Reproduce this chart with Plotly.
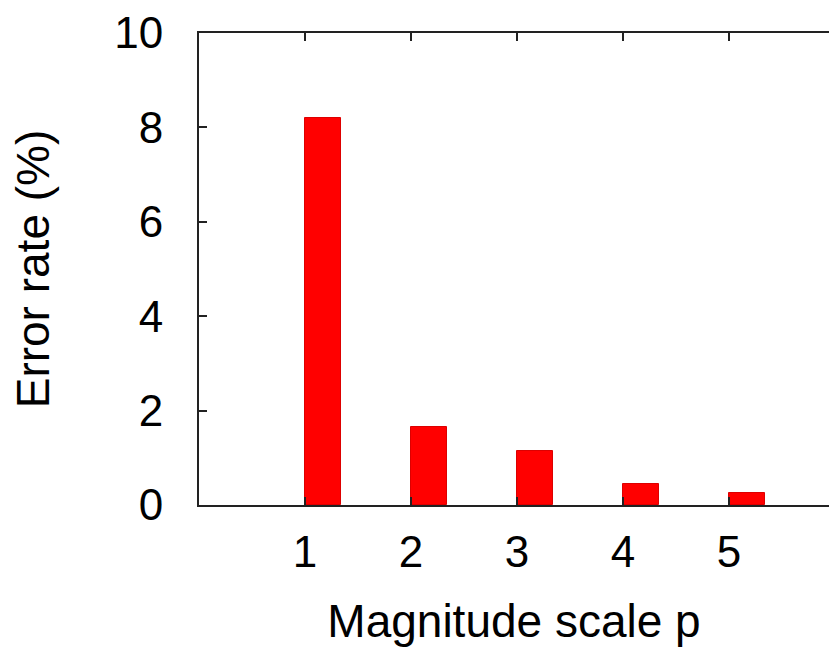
import plotly.graph_objects as go

# Error rate per magnitude scale
scales = [1, 2, 3, 4, 5]
error_rate = [8.2, 1.65, 1.15, 0.44, 0.25]
y_ticks = [0, 2, 4, 6, 8, 10]

FONT = "Liberation Sans, Arial, sans-serif"
AXIS_COLOR = "#222222"

fig = go.Figure(
    go.Bar(
        x=scales,
        y=error_rate,
        width=0.34,
        offset=0,
        marker=dict(color="#ff0000", line=dict(color="#dd0000", width=1)),
        showlegend=False,
    )
)

fig.update_layout(
    width=829,
    height=650,
    margin=dict(l=199, r=0, t=33, b=145),
    paper_bgcolor="white",
    plot_bgcolor="white",
    font=dict(family=FONT, size=44, color="black"),
    bargap=0,
)

fig.update_xaxes(
    range=[0, 5.943],
    tickvals=scales,
    ticktext=[str(s) for s in scales],
    ticks="inside",
    ticklen=8,
    tickwidth=2,
    tickcolor=AXIS_COLOR,
    showline=True,
    linewidth=2,
    linecolor=AXIS_COLOR,
    mirror="ticks",
    showgrid=False,
    zeroline=False,
    ticklabelstandoff=7,
    tickfont=dict(size=44),
    title=dict(text="Magnitude scale p", font=dict(size=46), standoff=30),
    automargin=False,
)

fig.update_yaxes(
    range=[0, 10],
    tickvals=y_ticks,
    ticks="inside",
    ticklen=8,
    tickwidth=2,
    tickcolor=AXIS_COLOR,
    showline=True,
    linewidth=2,
    linecolor=AXIS_COLOR,
    mirror=False,
    showgrid=False,
    zeroline=False,
    ticklabelstandoff=25,
    tickfont=dict(size=44),
    title=dict(text="Error rate (%)", font=dict(size=46), standoff=50),
    automargin=False,
)

fig.write_html("out.html")
